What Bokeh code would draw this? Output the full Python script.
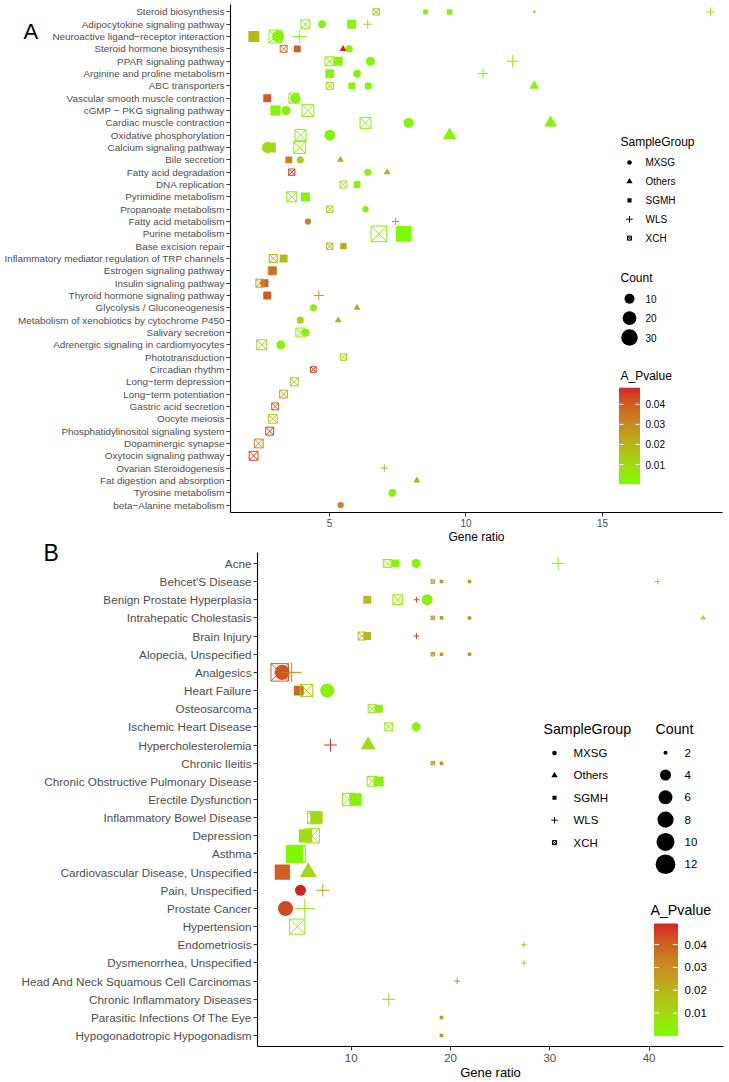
import numpy as np
from bokeh.plotting import figure
from bokeh.models import Range1d, Label, FixedTicker
from bokeh.embed import file_html
from bokeh.resources import INLINE
from bokeh.core.properties import value

FONT = "Liberation Sans"

# ---------------- Panel A data (KEGG pathways) ----------------
A_TERMS = [
    "Steroid biosynthesis", "Adipocytokine signaling pathway",
    "Neuroactive ligand\u2212receptor interaction", "Steroid hormone biosynthesis",
    "PPAR signaling pathway", "Arginine and proline metabolism", "ABC transporters",
    "Vascular smooth muscle contraction", "cGMP \u2212 PKG signaling pathway",
    "Cardiac muscle contraction", "Oxidative phosphorylation", "Calcium signaling pathway",
    "Bile secretion", "Fatty acid degradation", "DNA replication", "Pyrimidine metabolism",
    "Propanoate metabolism", "Fatty acid metabolism", "Purine metabolism",
    "Base excision repair", "Inflammatory mediator regulation of TRP channels",
    "Estrogen signaling pathway", "Insulin signaling pathway",
    "Thyroid hormone signaling pathway", "Glycolysis / Gluconeogenesis",
    "Metabolism of xenobiotics by cytochrome P450", "Salivary secretion",
    "Adrenergic signaling in cardiomyocytes", "Phototransduction", "Circadian rhythm",
    "Long\u2212term depression", "Long\u2212term potentiation", "Gastric acid secretion",
    "Oocyte meiosis", "Phosphatidylinositol signaling system", "Dopaminergic synapse",
    "Oxytocin signaling pathway", "Ovarian Steroidogenesis", "Fat digestion and absorption",
    "Tyrosine metabolism", "beta\u2212Alanine metabolism",
]
A_ROW = [0, 0, 0, 0, 0, 1, 1, 1, 1, 2, 2, 2, 2, 3, 3, 3, 3, 4, 4, 4, 4, 5, 5, 5,
         6, 6, 6, 6, 7, 7, 7, 8, 8, 8, 9, 9, 9, 10, 10, 10, 11, 11, 11, 12, 12, 12,
         13, 13, 13, 14, 14, 15, 15, 16, 16, 17, 17, 18, 18, 19, 19, 20, 20, 21, 21,
         22, 22, 23, 23, 24, 24, 25, 25, 26, 26, 27, 27, 28, 29, 30, 31, 32, 33, 34,
         35, 36, 37, 38, 39, 40]
A_GROUP = ["XCH", "MXSG", "SGMH", "Others", "WLS",
           "XCH", "MXSG", "SGMH", "WLS",
           "SGMH", "XCH", "MXSG", "WLS",
           "XCH", "SGMH", "Others", "MXSG",
           "XCH", "SGMH", "MXSG", "WLS",
           "SGMH", "MXSG", "WLS",
           "XCH", "SGMH", "MXSG", "Others",
           "SGMH", "XCH", "MXSG",
           "SGMH", "MXSG", "XCH",
           "XCH", "MXSG", "Others",
           "XCH", "MXSG", "Others",
           "MXSG", "SGMH", "XCH",
           "SGMH", "MXSG", "Others",
           "XCH", "MXSG", "Others",
           "XCH", "SGMH", "XCH", "SGMH", "XCH", "MXSG", "MXSG", "WLS",
           "XCH", "SGMH", "XCH", "SGMH", "XCH", "SGMH", "XCH", "SGMH", "XCH", "SGMH",
           "SGMH", "WLS", "MXSG", "Others", "MXSG", "Others", "XCH", "MXSG", "XCH", "MXSG",
           "XCH", "XCH", "XCH", "XCH", "XCH", "XCH", "XCH", "XCH", "XCH",
           "WLS", "Others", "MXSG", "MXSG"]
A_RATIO = [6.71, 8.52, 9.40, 12.50, 18.96,
           4.12, 4.73, 5.81, 6.40,
           2.23, 3.02, 3.12, 3.91,
           3.32, 3.82, 5.50, 5.72,
           5.00, 5.32, 6.50, 11.71,
           5.01, 6.01, 10.62,
           5.01, 5.82, 6.42, 12.50,
           2.72, 3.70, 3.75,
           3.02, 3.41, 4.21,
           6.32, 7.90, 13.10,
           3.94, 5.01, 9.40,
           2.72, 2.85, 3.91,
           3.51, 3.93, 5.40,
           3.62, 6.40, 7.11,
           5.51, 6.01, 3.62, 4.12, 5.01, 6.32, 4.21, 7.42,
           6.81, 7.72, 5.01, 5.51, 2.94, 3.32, 2.90, 2.92, 2.45, 2.62,
           2.72, 4.61, 4.41, 6.01, 3.93, 5.32, 3.93, 4.12, 2.52, 3.22,
           5.51, 4.41, 3.71, 3.32, 3.01, 2.92, 2.81, 2.41, 2.22,
           7.01, 8.20, 7.30, 5.41]
A_COUNT = [5, 3, 4, 2, 4,
           10, 6, 10, 4,
           16, 23, 15, 10,
           6, 6, 3, 5,
           10, 10, 8, 7,
           10, 6, 5,
           6, 6, 5, 5,
           8, 13, 10,
           13, 8, 19,
           16, 10, 9,
           16, 12, 10,
           12, 13, 19,
           6, 5, 3,
           5, 5, 3,
           6, 6, 13, 10, 5, 4, 4, 3,
           35, 35, 5, 5, 8, 8, 8, 8, 8, 8,
           8, 5, 5, 3, 5, 3, 10, 6, 13, 8,
           5, 4, 8, 8, 6, 10, 8, 10, 10,
           3, 3, 6, 4]
A_PVAL = [0.015, 0.003, 0.003, 0.022, 0.005,
          0.004, 0.002, 0.002, 0.010,
          0.018, 0.004, 0.002, 0.003,
          0.036, 0.040, 0.048, 0.003,
          0.004, 0.002, 0.002, 0.003,
          0.002, 0.002, 0.003,
          0.006, 0.002, 0.002, 0.002,
          0.040, 0.004, 0.003,
          0.002, 0.002, 0.004,
          0.004, 0.002, 0.002,
          0.004, 0.002, 0.002,
          0.010, 0.010, 0.004,
          0.032, 0.013, 0.022,
          0.046, 0.003, 0.022,
          0.006, 0.003, 0.004, 0.002, 0.015, 0.003, 0.032, 0.027,
          0.004, 0.0005, 0.020, 0.022, 0.020, 0.018, 0.034, 0.036, 0.024, 0.038,
          0.040, 0.026, 0.003, 0.022, 0.010, 0.022, 0.004, 0.002, 0.012, 0.002,
          0.014, 0.046, 0.014, 0.020, 0.040, 0.014, 0.044, 0.030, 0.044,
          0.022, 0.022, 0.003, 0.032]
A_XTICKS = [5, 10, 15]
A_COUNT_BREAKS = [10, 20, 30]

# ---------------- Panel B data (diseases) ----------------
B_TERMS = [
    "Acne", "Behcet'S Disease", "Benign Prostate Hyperplasia", "Intrahepatic Cholestasis",
    "Brain Injury", "Alopecia, Unspecified", "Analgesics", "Heart Failure", "Osteosarcoma",
    "Ischemic Heart Disease", "Hypercholesterolemia", "Chronic Ileitis",
    "Chronic Obstructive Pulmonary Disease", "Erectile Dysfunction",
    "Inflammatory Bowel Disease", "Depression", "Asthma",
    "Cardiovascular Disease, Unspecified", "Pain, Unspecified", "Prostate Cancer",
    "Hypertension", "Endometriosis", "Dysmenorrhea, Unspecified",
    "Head And Neck Squamous Cell Carcinomas", "Chronic Inflammatory Diseases",
    "Parasitic Infections Of The Eye", "Hypogonadotropic Hypogonadism",
]
B_ROW = [0, 0, 0, 0, 1, 1, 1, 1, 2, 2, 2, 2, 3, 3, 3, 3, 4, 4, 4, 5, 5, 5,
         6, 6, 6, 7, 7, 7, 8, 8, 9, 9, 10, 10, 11, 11, 12, 12, 13, 13, 14, 14,
         15, 15, 16, 16, 17, 17, 18, 18, 19, 19, 20, 21, 22, 23, 24, 25, 26]
B_GROUP = ["XCH", "SGMH", "MXSG", "WLS",
           "XCH", "SGMH", "MXSG", "WLS",
           "SGMH", "XCH", "WLS", "MXSG",
           "XCH", "SGMH", "MXSG", "Others",
           "XCH", "SGMH", "WLS",
           "XCH", "SGMH", "MXSG",
           "XCH", "MXSG", "WLS",
           "SGMH", "XCH", "MXSG",
           "XCH", "SGMH", "XCH", "MXSG", "WLS", "Others", "XCH", "SGMH",
           "XCH", "SGMH", "XCH", "SGMH", "XCH", "SGMH", "SGMH", "XCH", "SGMH", "XCH",
           "SGMH", "Others", "MXSG", "WLS", "MXSG", "WLS", "XCH",
           "WLS", "WLS", "WLS", "WLS", "SGMH", "SGMH"]
B_RATIO = [13.62, 14.46, 16.54, 30.84,
           18.21, 19.09, 21.91, 40.87,
           11.61, 14.69, 16.57, 17.65,
           18.21, 19.09, 21.91, 45.44,
           11.10, 11.61, 16.57,
           18.21, 19.09, 21.91,
           2.80, 3.05, 4.00,
           4.72, 5.50, 7.58,
           12.10, 12.78, 13.78, 16.54, 7.91, 11.70, 18.21, 19.09,
           12.10, 12.78, 9.75, 10.43, 6.23, 6.50, 5.39, 6.07, 4.30, 4.50,
           3.06, 5.67, 4.89, 7.14, 3.38, 5.32, 4.56,
           27.38, 27.38, 20.67, 13.78, 19.09, 19.09]
B_COUNT = [3, 3, 3, 3,
           2, 2, 2, 2,
           3, 4, 2, 4,
           2, 2, 2, 2,
           3, 3, 2,
           2, 2, 2,
           12, 7, 6,
           4, 6, 6,
           3, 3, 3, 3, 3, 4, 2, 2,
           4, 4, 6, 6, 6, 6, 7, 8, 12, 12,
           9, 5, 4, 3, 7, 6, 9,
           2, 2, 2, 3, 2, 2]
B_PVAL = [0.005, 0.003, 0.003, 0.005,
          0.028, 0.028, 0.028, 0.010,
          0.018, 0.006, 0.046, 0.003,
          0.028, 0.028, 0.028, 0.008,
          0.018, 0.018, 0.046,
          0.028, 0.028, 0.028,
          0.040, 0.042, 0.032,
          0.038, 0.016, 0.003,
          0.005, 0.003, 0.005, 0.003, 0.047, 0.010, 0.028, 0.028,
          0.005, 0.003, 0.005, 0.003, 0.010, 0.010, 0.010, 0.006, 0.0002, 0.004,
          0.040, 0.010, 0.049, 0.026, 0.044, 0.008, 0.005,
          0.014, 0.014, 0.030, 0.014, 0.028, 0.028]
B_XTICKS = [10, 20, 30, 40]
B_COUNT_BREAKS = [2, 4, 6, 8, 10, 12]

P_BREAKS = [0.01, 0.02, 0.03, 0.04]
GROUPS = ["MXSG", "Others", "SGMH", "WLS", "XCH"]

# ---------------- styling ----------------
MARKER = {"MXSG": "circle", "Others": "triangle", "SGMH": "square", "WLS": "cross", "XCH": "square_x"}
SHAPE_SCALE = {"circle": 1.0, "triangle": 1.347, "square": 0.886, "cross": 1.414, "square_x": 0.886}
FILLED = {"circle", "triangle", "square"}
DRAW_ORDER = ["SGMH", "XCH", "MXSG", "Others", "WLS"]
LOW, HIGH = "#7CFC00", "#D42222"

M_RGB2XYZ = np.array([[0.4124564, 0.3575761, 0.1804375],
                      [0.2126729, 0.7151522, 0.0721750],
                      [0.0193339, 0.1191920, 0.9503041]])
WHITE = np.array([0.95047, 1.0, 1.08883])
E = 6 / 29


def hex_to_lab(h):
    rgb = np.array([int(h[i:i + 2], 16) for i in (1, 3, 5)], float) / 255
    lin = np.where(rgb <= 0.04045, rgb / 12.92, ((rgb + 0.055) / 1.055) ** 2.4)
    xyz = M_RGB2XYZ @ lin / WHITE
    f = np.where(xyz > E ** 3, np.cbrt(xyz), xyz / (3 * E * E) + 4 / 29)
    return np.array([116 * f[1] - 16, 500 * (f[0] - f[1]), 200 * (f[1] - f[2])])


def lab_to_hex(lab):
    L, a, b = lab
    fy = (L + 16) / 116
    f = np.array([fy + a / 500, fy, fy - b / 200])
    xyz = np.where(f > E, f ** 3, 3 * E * E * (f - 4 / 29)) * WHITE
    lin = np.clip(np.linalg.solve(M_RGB2XYZ, xyz), 0, 1)
    rgb = np.where(lin <= 0.0031308, 12.92 * lin, 1.055 * lin ** (1 / 2.4) - 0.055)
    return "#%02x%02x%02x" % tuple(int(round(v * 255)) for v in np.clip(rgb, 0, 1))


LAB_LO, LAB_HI = hex_to_lab(LOW), hex_to_lab(HIGH)


def grad(t):
    t = min(max(t, 0.0), 1.0)
    return lab_to_hex(LAB_LO + t * (LAB_HI - LAB_LO))


def build(cfg):
    terms = cfg["terms"]
    n = len(terms)
    W, H = cfg["W"], cfg["H"]
    Lb, Rb, Tb, Bb = cfg["borders"]
    fw, fh = W - Lb - Rb, H - Tb - Bb
    p = figure(width=W, height=H, output_backend="svg", toolbar_location=None, title=None,
               x_range=Range1d(*cfg["xr"]),
               y_range=Range1d(n - 1 + cfg["ey"], -cfg["ey"]),
               min_border_left=Lb, min_border_right=Rb, min_border_top=Tb, min_border_bottom=Bb)
    p.extra_x_ranges = {"px": Range1d(0, fw)}
    p.extra_y_ranges = {"px": Range1d(fh, 0)}
    p.outline_line_color = None
    p.xgrid.visible = False
    p.ygrid.visible = False
    p.background_fill_color = "white"
    p.border_fill_color = "white"

    for ax in (p.xaxis[0], p.yaxis[0]):
        ax.axis_line_color = "black"
        ax.axis_line_width = 1.1
        ax.major_tick_line_color = "#333333"
        ax.major_tick_line_width = 1
        ax.major_tick_out = 4
        ax.major_tick_in = 0
        ax.minor_tick_line_color = None
        ax.major_label_text_font = FONT
        ax.major_label_text_color = "#4D4D4D"
        ax.major_label_standoff = 2
    xa = p.xaxis[0]
    xa.ticker = FixedTicker(ticks=cfg["xticks"])
    xa.major_label_text_font_size = f"{cfg['xtick_fs']}px"
    xa.major_label_standoff = cfg["xstandoff"]
    xa.axis_label = "Gene ratio"
    xa.axis_label_text_font = FONT
    xa.axis_label_text_font_size = f"{cfg['xtitle_fs']}px"
    xa.axis_label_text_font_style = "normal"
    xa.axis_label_text_color = "black"
    xa.axis_label_standoff = 0
    ya = p.yaxis[0]
    ya.ticker = FixedTicker(ticks=list(range(n)))
    ya.major_label_overrides = {i: t for i, t in enumerate(terms)}
    ya.major_label_text_font_size = f"{cfg['ylab_fs']}px"

    rows, groups = cfg["rows"], cfg["groups"]
    ratios, counts, pvals = cfg["ratios"], cfg["counts"], cfg["pvals"]
    cmin, cmax = min(counts), max(counts)
    pmin, pmax = min(pvals), max(pvals)
    dmin, dmax = cfg["dsize"]

    def diam(c):
        return dmin + (dmax - dmin) * np.sqrt((c - cmin) / (cmax - cmin))

    order = sorted(range(len(groups)), key=lambda i: DRAW_ORDER.index(groups[i]))
    mk = [MARKER[groups[i]] for i in order]
    src = dict(
        x=[ratios[i] for i in order],
        y=[rows[i] for i in order],
        marker=mk,
        size=[diam(counts[i]) * SHAPE_SCALE[MARKER[groups[i]]] for i in order],
        color=[grad((pvals[i] - pmin) / (pmax - pmin)) for i in order],
        fa=[1.0 if m in FILLED else 0.0 for m in mk],
        la=[0.0 if m in FILLED else 1.0 for m in mk],
    )
    p.scatter(x="x", y="y", marker="marker", size="size", fill_color="color",
              line_color="color", fill_alpha="fa", line_alpha="la", line_width=1.0, source=src)

    def lab(x, y, text, fs, color="black", align="left", baseline="middle"):
        p.add_layout(Label(x=x, y=y, x_range_name="px", y_range_name="px", text=text,
                           text_font=FONT, text_font_size=f"{fs}px", text_color=color,
                           text_align=align, text_baseline=baseline))

    lg = cfg["legend"]
    # shape legend
    lab(lg["shape_title"][0], lg["shape_title"][1], "SampleGroup", lg["title_fs"])
    ys = [lg["shape_y0"] + k * lg["shape_dy"] for k in range(len(GROUPS))]
    mks = [MARKER[g] for g in GROUPS]
    p.scatter(x=[lg["shape_sx"]] * len(GROUPS), y=ys, marker=mks,
              size=[lg["key_d"] * SHAPE_SCALE[m] for m in mks], fill_color="black",
              line_color="black", fill_alpha=[1.0 if m in FILLED else 0.0 for m in mks],
              line_alpha=[0.0 if m in FILLED else 1.0 for m in mks], line_width=1.0,
              x_range_name="px", y_range_name="px")
    for g, yy in zip(GROUPS, ys):
        lab(lg["shape_lx"], yy, g, lg["text_fs"])
    # size legend
    lab(lg["count_title"][0], lg["count_title"][1], "Count", lg["title_fs"])
    cb = cfg["count_breaks"]
    ysc = [lg["count_y0"] + k * lg["count_dy"] for k in range(len(cb))]
    p.scatter(x=[lg["count_sx"]] * len(cb), y=ysc, marker="circle",
              size=[diam(c) for c in cb], fill_color="black", line_color=None,
              x_range_name="px", y_range_name="px")
    for c, yy in zip(cb, ysc):
        lab(lg["count_lx"], yy, str(c), lg["text_fs"])
    # colour bar
    lab(lg["p_title"][0], lg["p_title"][1], "A_Pvalue", lg["title_fs"])
    bl, br, bt, bb = lg["bar"]
    nseg = int(bb - bt)
    edges = np.linspace(bt, bb, nseg + 1)
    mids = (edges[:-1] + edges[1:]) / 2
    cols = [grad(1 - (m - bt) / (bb - bt)) for m in mids]
    p.quad(left=bl, right=br, top=list(edges[:-1]), bottom=list(edges[1:]),
           fill_color=cols, line_color=cols, line_width=1.0,
           x_range_name="px", y_range_name="px")
    tw = (br - bl) / 5
    for b in P_BREAKS:
        yy = bb - (b - pmin) / (pmax - pmin) * (bb - bt)
        p.segment(x0=[bl, br - tw], y0=[yy, yy], x1=[bl + tw, br], y1=[yy, yy],
                  line_color="white", line_width=1, x_range_name="px", y_range_name="px")
        lab(lg["p_lx"], yy, f"{b:.2f}", lg["text_fs"])
    return p


def letter_fig(ch, left, center_y, fs):
    """Small transparent overlay figure carrying the panel letter."""
    w, h = 44, 60
    top = center_y - 30
    f = figure(width=w, height=h, output_backend="svg", toolbar_location=None, title=None,
               x_range=Range1d(0, w), y_range=Range1d(h, 0),
               min_border_left=0, min_border_right=0, min_border_top=0, min_border_bottom=0,
               x_axis_location=None, y_axis_location=None,
               styles={"position": "absolute", "left": f"{left - 4}px", "top": f"{top}px",
                       "z-index": "10"})
    f.outline_line_color = None
    f.background_fill_alpha = 0
    f.border_fill_alpha = 0
    f.grid.visible = False
    f.text(x=[4], y=[30], text=[ch], text_font=value(FONT), text_font_size=value(f"{fs}px"),
           text_baseline=value("middle"), text_align=value("left"), text_color="black")
    return f


cfg_a = dict(
    terms=A_TERMS, rows=A_ROW, groups=A_GROUP, ratios=A_RATIO, counts=A_COUNT, pvals=A_PVAL,
    xticks=A_XTICKS, count_breaks=A_COUNT_BREAKS,
    W=729, H=546, borders=(230, 7, 4, 31), xr=(1.374, 19.396), ey=0.6,
    dsize=(2.5, 17.7), ylab_fs=9.9, xtick_fs=10, xstandoff=2, xtitle_fs=12,
    legend=dict(title_fs=12, text_fs=10, key_d=4.6,
                shape_title=(390, 138), shape_sx=399, shape_lx=415, shape_y0=159, shape_dy=19,
                count_title=(390, 275), count_sx=399, count_lx=415, count_y0=296, count_dy=19.5,
                p_title=(390, 374), bar=(389, 409, 386, 482), p_lx=415),
)
cfg_b = dict(
    terms=B_TERMS, rows=B_ROW, groups=B_GROUP, ratios=B_RATIO, counts=B_COUNT, pvals=B_PVAL,
    xticks=B_XTICKS, count_breaks=B_COUNT_BREAKS,
    W=729, H=536, borders=(257, 6, 6, 34), xr=(0.56, 47.49), ey=0.6,
    dsize=(4.0, 19.7), ylab_fs=11.7, xtick_fs=11.5, xstandoff=3, xtitle_fs=13,
    legend=dict(title_fs=14.2, text_fs=11.5, key_d=4.6,
                shape_title=(286, 177), shape_sx=297, shape_lx=316, shape_y0=201.3, shape_dy=22.5,
                count_title=(398, 177), count_sx=408, count_lx=427, count_y0=201, count_dy=22.4,
                p_title=(393, 359), bar=(397, 420, 373, 485), p_lx=427),
)

pa = build(cfg_a)
pb = build(cfg_b)
la = letter_fig("A", 23, 31, 22)
lb = letter_fig("B", 43, 552, 23)
open("out.html", "w").write(file_html([pa, pb, la, lb], INLINE))
